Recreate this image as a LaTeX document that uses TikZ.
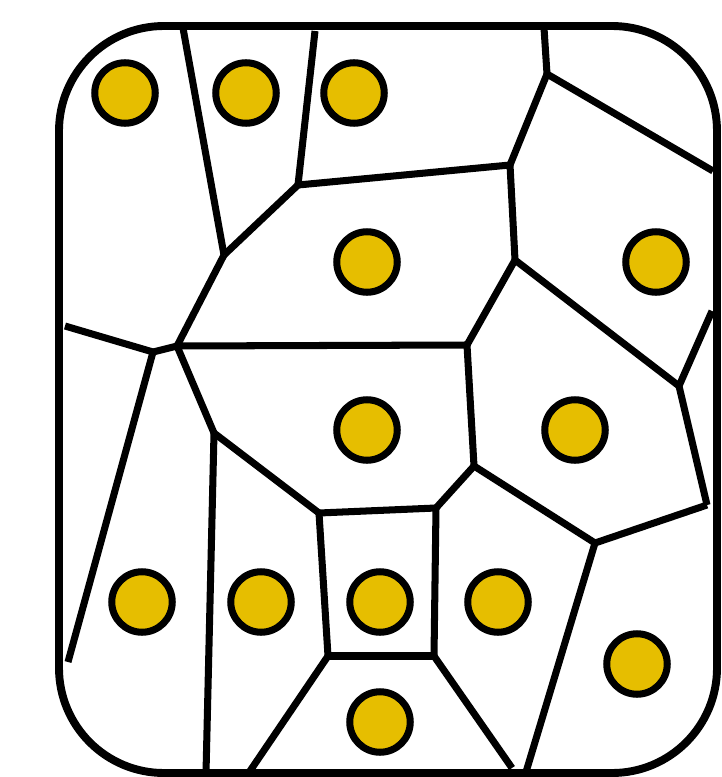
\documentclass[tikz,border=0pt]{standalone}
\usepackage{xcolor}
\usetikzlibrary{positioning}
\definecolor{seed}{HTML}{E6BE00}

\begin{document}
\begin{tikzpicture}[
  x=0.02cm, y=-0.02cm,
  site/.style={circle, draw=black, fill=seed, line width=4pt,
               minimum size=1.21cm, inner sep=0pt},
  cell/.style={draw=black, line width=4pt},
  frame/.style={draw=black, line width=4.5pt, rounded corners=2.1cm}
]
  \useasboundingbox (0,0) rectangle (721,777);

  \draw[frame] (59,26) rectangle (717,773);

  % Voronoi vertices
  \coordinate (t1) at (183,28);
  \coordinate (t2) at (315,31);
  \coordinate (t3) at (544,28);
  \coordinate (r1) at (713,171);
  \coordinate (r2) at (712,311);
  \coordinate (l1) at (65,326);
  \coordinate (l2) at (68,662);
  \coordinate (b1) at (206,773);
  \coordinate (b2) at (250,771);
  \coordinate (b3) at (512,768);
  \coordinate (b4) at (526,772);

  \coordinate (va) at (224,255);
  \coordinate (vb) at (298,185);
  \coordinate (vc) at (510,165);
  \coordinate (vd) at (547,74);
  \coordinate (ve) at (515,260);
  \coordinate (vf) at (467,345);
  \coordinate (vg) at (177,346);
  \coordinate (vh) at (153,352);
  \coordinate (vi) at (214,433);
  \coordinate (vj) at (319,513);
  \coordinate (vk) at (436,508);
  \coordinate (vl) at (474,466);
  \coordinate (vm) at (328,656);
  \coordinate (vn) at (434,656);
  \coordinate (vo) at (595,543);
  \coordinate (vp) at (707,505);
  \coordinate (vq) at (679,386);

  % cell edges
  \draw[cell] (t1) -- (va);
  \draw[cell] (t2) -- (vb);
  \draw[cell] (va) -- (vb);
  \draw[cell] (vb) -- (vc);
  \draw[cell] (vc) -- (vd);
  \draw[cell] (vd) -- (t3);
  \draw[cell] (vd) -- (r1);
  \draw[cell] (vc) -- (ve);
  \draw[cell] (ve) -- (vf);
  \draw[cell] (ve) -- (vq);
  \draw[cell] (vq) -- (r2);
  \draw[cell] (vq) -- (vp);
  \draw[cell] (vp) -- (vo);
  \draw[cell] (vo) -- (vl);
  \draw[cell] (vo) -- (b4);
  \draw[cell] (vl) -- (vf);
  \draw[cell] (vl) -- (vk);
  \draw[cell] (vf) -- (vg);
  \draw[cell] (va) -- (vg);
  \draw[cell] (vg) -- (vh);
  \draw[cell] (vh) -- (l1);
  \draw[cell] (vh) -- (l2);
  \draw[cell] (vg) -- (vi);
  \draw[cell] (vi) -- (b1);
  \draw[cell] (vi) -- (vj);
  \draw[cell] (vj) -- (vk);
  \draw[cell] (vj) -- (vm);
  \draw[cell] (vk) -- (vn);
  \draw[cell] (vm) -- (vn);
  \draw[cell] (vm) -- (b2);
  \draw[cell] (vn) -- (b3);

  % sites
  \node[site] (s1) at (125,93) {};
  \node[site] (s2) at (246,93) {};
  \node[site] (s3) at (354,93) {};
  \node[site] (s4) at (367,262) {};
  \node[site] (s5) at (656,262) {};
  \node[site] (s6) at (367,430) {};
  \node[site] (s7) at (575,430) {};
  \node[site] (s8) at (142,602) {};
  \node[site] (s9) at (261,602) {};
  \node[site] (s10) at (380,602) {};
  \node[site] (s11) at (498,602) {};
  \node[site] (s12) at (637,664) {};
  \node[site] (s13) at (380,722) {};
\end{tikzpicture}
\end{document}
